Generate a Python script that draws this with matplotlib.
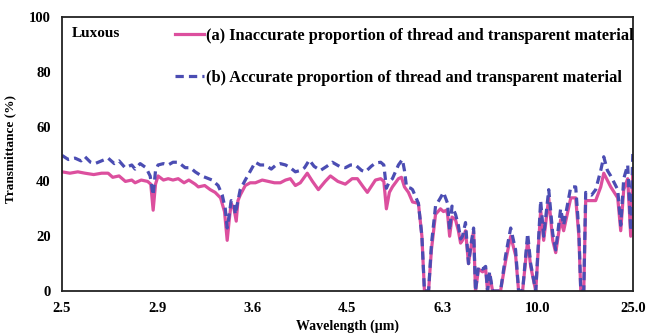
import numpy as np
import matplotlib
matplotlib.use("Agg")
from matplotlib import pyplot as plt

# wavenumber (cm-1) and transmittance (%) for both samples
wn_a = [4000, 3950, 3900, 3855, 3800, 3750, 3709, 3680, 3640, 3600, 3560, 3539,
        3500, 3460, 3440, 3425, 3410, 3394, 3360, 3330, 3300, 3267, 3230, 3200,
        3160, 3140, 3100, 3065, 3034, 3000, 2975, 2958, 2945, 2933, 2915, 2901,
        2890, 2876, 2844, 2813, 2780, 2737, 2700, 2660, 2623, 2590, 2560, 2528,
        2497, 2453, 2420, 2383, 2340, 2307, 2260, 2213, 2170, 2137, 2100, 2074,
        2040, 2023, 1990, 1970, 1954, 1935, 1916, 1878, 1859, 1840, 1815, 1789,
        1752, 1730, 1714, 1688, 1670, 1644, 1613, 1594, 1575, 1568, 1555, 1540,
        1518, 1500, 1486, 1474, 1455, 1436, 1423, 1404, 1392, 1373, 1347, 1328,
        1316, 1303, 1284, 1234, 1202, 1170, 1139, 1120, 1095, 1063, 1044, 1012,
        981, 962, 930, 905, 886, 855, 836, 791, 760, 740, 728, 709, 697, 634,
        602, 583, 539, 495, 476, 457, 432, 413, 400]
t_a = [43.5, 43, 43.5, 43, 42.5, 43, 43, 41.5, 42, 40, 40.5, 39.5,
       40.5, 40, 39, 29.5, 39, 42, 40.5, 41, 40.5, 41, 39.5, 40.5,
       39, 38, 38.5, 37, 36, 34, 29, 18.5, 26, 32, 30, 25.5,
       33, 35, 38.5, 39.5, 39.5, 40.5, 40, 39.5, 39.5, 40.5, 41, 38.5,
       39.5, 43, 40, 37, 40, 42, 40, 39, 41, 41, 38, 36,
       39, 40.5, 41, 40, 30, 36, 38, 41, 41.5, 38, 36, 32.5,
       32, 20, 0, 0, 15, 28, 30, 29, 29.5, 28, 20, 27,
       26, 22, 17.5, 18.5, 22, 10, 15, 22, 0, 8, 7, 8,
       0, 6, 0, 0, 11, 20, 13, 0, 0, 18.5, 9, 0,
       29.5, 18.5, 34, 18.5, 14, 26, 22, 34, 34, 20, 0, 0, 33, 33,
       38, 43, 38, 34, 22, 37, 41, 20, 44]

wn_b = [4000, 3960, 3918, 3880, 3855, 3820, 3792, 3750, 3709, 3670, 3640, 3602,
        3560, 3539, 3507, 3470, 3444, 3425, 3410, 3394, 3360, 3330, 3300, 3267,
        3223, 3190, 3160, 3120, 3097, 3053, 3015, 2989, 2970, 2958, 2945, 2933,
        2915, 2907, 2890, 2876, 2844, 2810, 2781, 2750, 2718, 2680, 2650, 2623,
        2590, 2560, 2528, 2497, 2470, 2440, 2410, 2370, 2330, 2295, 2250, 2213,
        2180, 2149, 2110, 2086, 2050, 2023, 1990, 1970, 1954, 1935, 1916, 1878,
        1853, 1840, 1827, 1800, 1789, 1752, 1730, 1714, 1688, 1670, 1644, 1613,
        1594, 1575, 1568, 1555, 1540, 1518, 1500, 1486, 1474, 1455, 1436, 1423,
        1404, 1392, 1373, 1347, 1328, 1316, 1303, 1284, 1234, 1202, 1170, 1139,
        1120, 1095, 1063, 1044, 1012, 981, 962, 930, 905, 886, 855, 836,
        791, 760, 740, 728, 709, 697, 660, 634, 602, 583, 560, 539,
        495, 476, 457, 432, 413, 400]
t_b = [49.5, 48, 48.5, 47.5, 49, 47, 46.5, 47.5, 48.5, 46.5, 47.5, 45,
       46, 44.5, 46.5, 45, 42, 35, 44, 46, 46.5, 46, 47, 47,
       45, 45, 43.5, 42, 41.5, 40.5, 38.5, 35, 30, 23, 28, 33,
       32, 28, 33, 37, 40.5, 44, 47, 46, 46, 44.5, 46, 46.5,
       46, 45, 43.5, 44, 45, 47.8, 45.5, 44, 45.5, 47, 45.5, 45,
       46, 46, 44, 43.5, 45.5, 46.7, 47, 46, 37.5, 40, 41, 46,
       48, 44, 38, 37.5, 37, 32, 20, 0, 0, 17, 31, 34,
       36, 33, 32, 22, 31, 28, 24, 19, 20, 25, 10, 16,
       23, 0, 9, 8, 9, 0, 7, 0, 0, 13, 23, 15,
       0, 0, 21, 10, 0, 33, 20, 37, 21, 15, 30, 24,
       38, 38, 22, 0, 0, 36, 35, 37, 44, 49, 44, 42,
       37, 24, 41, 46, 22, 50]

# tick positions in cm-1, labelled in micrometres
tick_wn = [4000, 3400, 2800, 2200, 1600, 1000, 400]
tick_um = ["2.5", "2.9", "3.6", "4.5", "6.3", "10.0", "25.0"]

label_a = "(a) Inaccurate proportion of thread and transparent material"
label_b = "(b) Accurate proportion of thread and transparent material"

plt.rcParams['font.family'] = ['Liberation Serif', 'DejaVu Serif']
plt.rcParams['font.weight'] = 'bold'

fig = plt.figure(figsize=(6.49, 3.33), dpi=100)
ax = fig.add_axes([0.0955, 0.126, 0.8795, 0.823])

ax.plot(wn_a, t_a, '-', color='#dc4f9e', lw=2.3, label=label_a)
ax.plot(wn_b, t_b, '--', color='#4b4db3', lw=2.3, dashes=(2.6, 1.6), label=label_b)

ax.set_xlim(4000, 400)
ax.set_ylim(0, 100)
ax.set_xticks(tick_wn)
ax.set_xticklabels(tick_um)
ax.set_yticks([0, 20, 40, 60, 80, 100])
ax.tick_params(length=0, labelsize=10.5, pad=8)
for s in ax.spines.values():
    s.set_linewidth(1.3)
    s.set_color('#222222')

ax.set_xlabel('Wavelength (µm)', fontsize=10, fontweight='bold', labelpad=3)
ax.set_ylabel('Transmittance (%)', fontsize=9.5, fontweight='bold', labelpad=7)
ax.yaxis.set_label_coords(-0.08, 0.52)

ax.text(0.018, 0.94, 'Luxous', transform=ax.transAxes, fontsize=11,
        fontweight='bold', va='center')

leg = ax.legend(loc='upper left', bbox_to_anchor=(0.18, 1.0), frameon=False,
                prop={'weight': 'bold', 'size': 11.8}, handlelength=1.75,
                handletextpad=0.1, labelspacing=1.6, borderaxespad=0.35,
                borderpad=0.3)

fig.savefig('out.png', dpi=100)
